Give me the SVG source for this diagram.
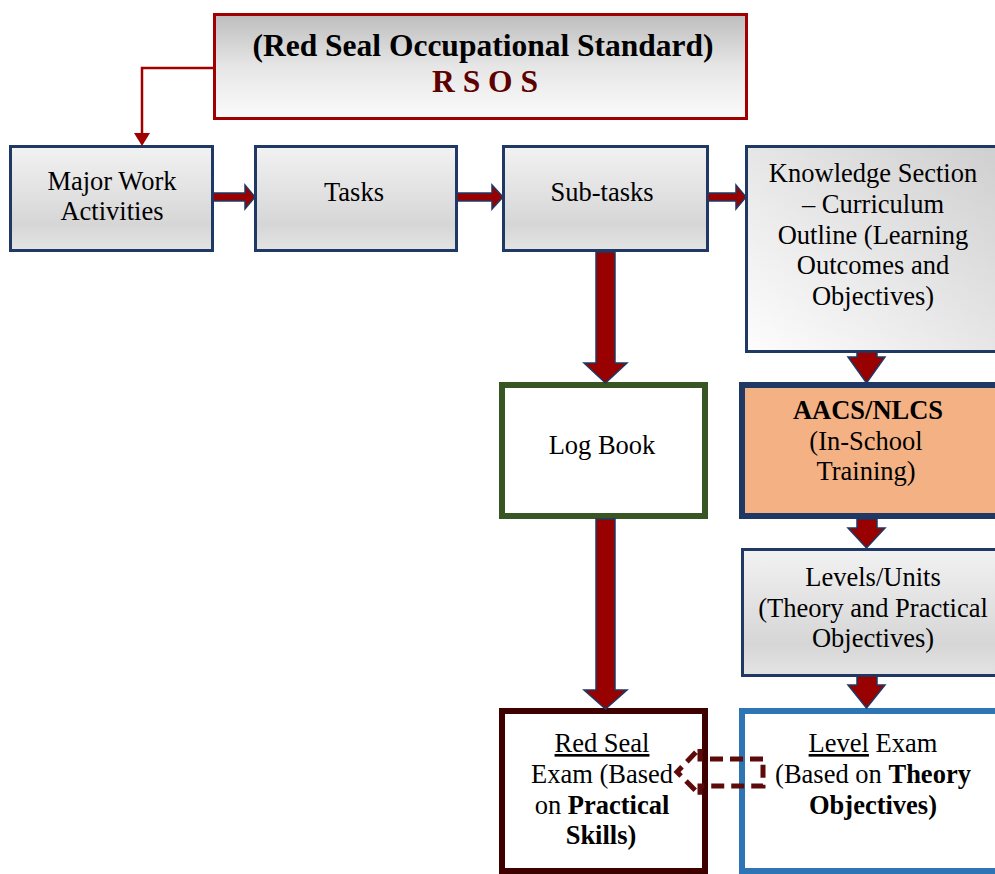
<svg xmlns="http://www.w3.org/2000/svg" width="995" height="874" viewBox="0 0 995 874">
<defs>
<linearGradient id="gTop" x1="0" y1="0" x2="0" y2="1">
<stop offset="0" stop-color="#bdbdbd"/><stop offset="0.5" stop-color="#e6e6e6"/><stop offset="1" stop-color="#fbfbfb"/>
</linearGradient>
<linearGradient id="gBox" x1="0" y1="0" x2="0" y2="1">
<stop offset="0" stop-color="#f2f2f2"/><stop offset="0.75" stop-color="#d6d6d6"/><stop offset="1" stop-color="#e4e4e4"/>
</linearGradient>
<linearGradient id="gDiag" x1="1" y1="0" x2="0" y2="1">
<stop offset="0" stop-color="#cfcfcf"/><stop offset="1" stop-color="#fdfdfd"/>
</linearGradient>
</defs>
<style>
text{font-family:"Liberation Serif","Times New Roman",serif;font-size:26.5px;fill:#000;text-anchor:middle}
.b{font-weight:bold}
.node{stroke:#1f3864;stroke-width:3}
.blk{fill:#990000;stroke:#1f3864;stroke-width:1.5;stroke-linejoin:miter}
</style>
<g id="rsos">
<rect x="214.5" y="14.5" width="532" height="104" fill="url(#gTop)" stroke="#a00000" stroke-width="3"/>
<text x="483" y="56" class="b" style="font-size:31.5px">(Red Seal Occupational Standard)</text>
<text x="485" y="92" class="b" style="font-size:31.5px;fill:#5c0000">R S O S</text>
</g>
<g id="major-work">
<rect class="node" x="10.5" y="146.5" width="202" height="104" fill="url(#gBox)"/>
<text x="112" y="190">Major Work</text>
<text x="112" y="220">Activities</text>
</g>
<g id="tasks">
<rect class="node" x="255.5" y="146.5" width="201" height="104" fill="url(#gBox)"/>
<text x="354" y="201">Tasks</text>
</g>
<g id="subtasks">
<rect class="node" x="503.5" y="146.5" width="204" height="104" fill="url(#gBox)"/>
<text x="602" y="201">Sub-tasks</text>
</g>
<g id="knowledge">
<rect class="node" x="746.5" y="146.5" width="252" height="205" fill="url(#gDiag)"/>
<text x="873" y="182">Knowledge Section</text>
<text x="873" y="213">– Curriculum</text>
<text x="873" y="244">Outline (Learning</text>
<text x="873" y="274">Outcomes and</text>
<text x="873" y="305">Objectives)</text>
</g>
<g id="logbook">
<rect x="502" y="385" width="203" height="131" fill="#fff" stroke="#375623" stroke-width="6"/>
<text x="602" y="454">Log Book</text>
</g>
<g id="aacs">
<rect x="742" y="385" width="260" height="131" fill="#f4b183" stroke="#1f3864" stroke-width="6"/>
<text x="868" y="419" class="b">AACS/NLCS</text>
<text x="866" y="450">(In-School</text>
<text x="866" y="480">Training)</text>
</g>
<g id="levels">
<rect class="node" x="742.5" y="549.5" width="258" height="126" fill="url(#gBox)"/>
<text x="873" y="586">Levels/Units</text>
<text x="873" y="617">(Theory and Practical</text>
<text x="873" y="647">Objectives)</text>
</g>
<g id="redseal-exam">
<rect x="502" y="711" width="203" height="160" fill="#fff" stroke="#3f0000" stroke-width="6"/>
<text x="602" y="752" text-decoration="underline">Red Seal</text>
<text x="602" y="783">Exam (Based</text>
<text x="602" y="814">on <tspan class="b">Practical</tspan></text>
<text x="601" y="844" class="b">Skills)</text>
</g>
<g id="level-exam">
<rect x="742" y="711" width="260" height="160" fill="#fff" stroke="#2e75b6" stroke-width="6"/>
<text x="873" y="752"><tspan text-decoration="underline">Level</tspan> Exam</text>
<text x="873" y="783">(Based on <tspan class="b">Theory</tspan></text>
<text x="873" y="814" class="b">Objectives)</text>
</g>
<g id="connectors">
<polyline points="213,68 142,68 142,137" fill="none" stroke="#a00000" stroke-width="2.5"/>
<path d="M134,133 L150,133 L142,146 Z" fill="#a00000"/>
<path class="blk" d="M213,193 L245,193 L245,185 L255,197 L245,209 L245,201 L213,201 Z"/>
<path class="blk" d="M457,193 L492,193 L492,185 L503,197 L492,209 L492,201 L457,201 Z"/>
<path class="blk" d="M708,193 L736,193 L736,185 L746,197 L736,209 L736,201 L708,201 Z"/>
<path class="blk" d="M596,252 L615,252 L615,363 L627,363 L605.5,383 L584,363 L596,363 Z"/>
<path class="blk" d="M596,519 L615,519 L615,690 L627,690 L605.5,709 L584,690 L596,690 Z"/>
<path class="blk" d="M857,352 L877,352 L877,357 L885,357 L866.5,383 L848,357 L857,357 Z"/>
<path class="blk" d="M857,519 L877,519 L877,528 L885,528 L866.5,548 L848,528 L857,528 Z"/>
<path class="blk" d="M857,676 L877,676 L877,685 L885,685 L866.5,708 L848,685 L857,685 Z"/>
<path d="M763,759 L700,759 L700,748 L677,772 L700,795 L700,786 L763,786 Z" fill="none" stroke="#5c0a0a" stroke-width="5" stroke-dasharray="13,7"/>
</g>
</svg>
